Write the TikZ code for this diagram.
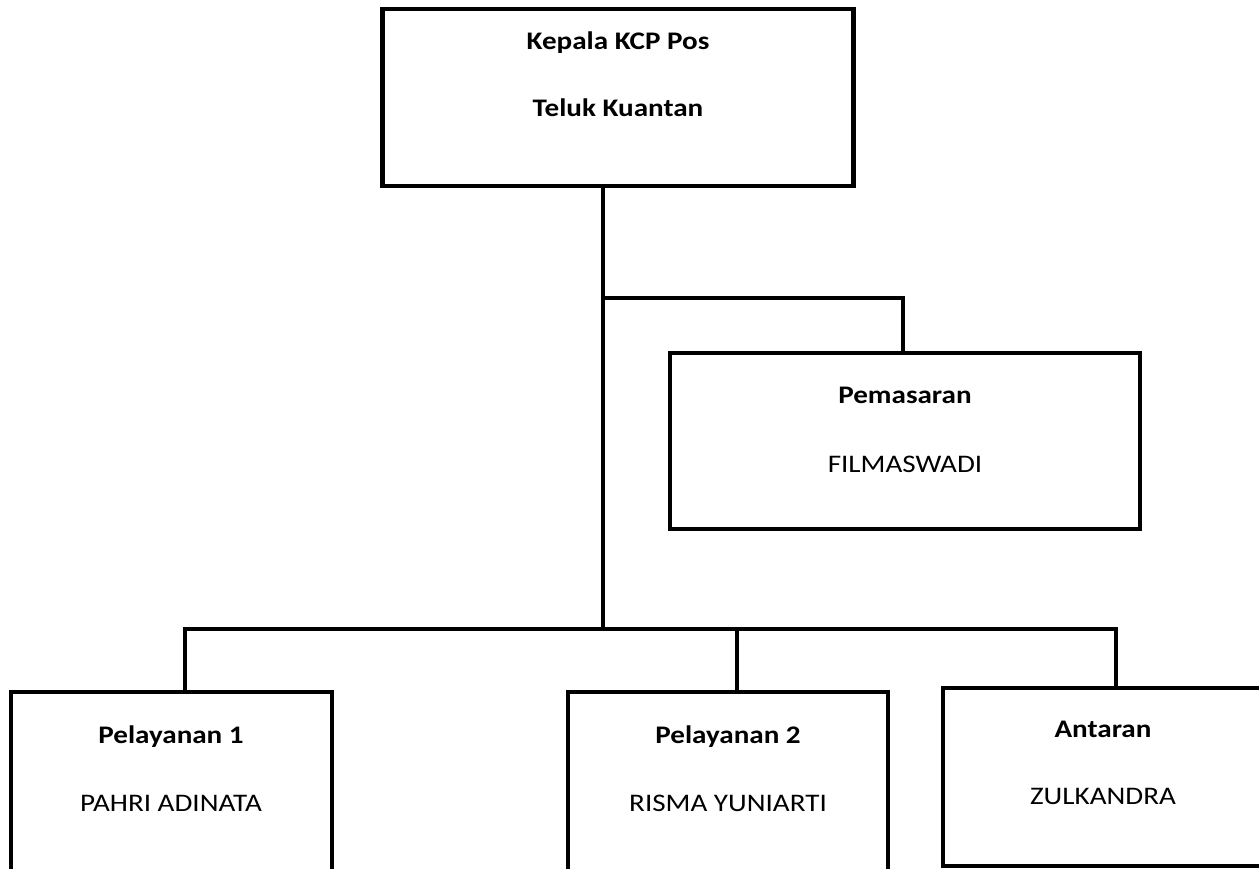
\documentclass[tikz,border=0pt]{standalone}
\usepackage{fontspec}
\setmainfont{Carlito}[FakeStretch=1.15]
\begin{document}
\begin{tikzpicture}[x=1pt,y=-1pt,
  orgbox/.style={draw=black,line width=4.2pt,fill=none,inner sep=0pt},
  conn/.style={draw=black,line width=4.2pt},
  headtxt/.style={font=\fontsize{25.3}{30}\selectfont\bfseries,anchor=base,inner sep=0pt},
  persontxt/.style={font=\fontsize{25.3}{30}\selectfont,anchor=base,inner sep=0pt}]
\clip (0,0) rectangle (1259,869);
\fill[white] (0,0) rectangle (1259,869);
% boxes
\node[orgbox,minimum width=471pt,minimum height=177pt] (top) at (618,97.5) {};
\node[orgbox,minimum width=470pt,minimum height=176pt] (pem) at (905,441) {};
\node[orgbox,minimum width=321pt,minimum height=210pt] (p1) at (171.5,797) {};
\node[orgbox,minimum width=320pt,minimum height=210pt] (p2) at (728,797) {};
\node[orgbox,minimum width=319pt,minimum height=178pt] (ant) at (1102.5,777) {};
% texts
\node[headtxt] (t1) at (618,50) {Kepala KCP Pos};
\node[headtxt] (t2) at (618,117) {Teluk Kuantan};
\node[headtxt] (t3) at (905,403) {Pemasaran};
\node[persontxt] (t4) at (905,472) {FILMASWADI};
\node[headtxt] (t5) at (171,743) {Pelayanan 1};
\node[persontxt] (t6) at (171,811) {PAHRI ADINATA};
\node[headtxt] (t7) at (728,743) {Pelayanan 2};
\node[persontxt] (t8) at (728,811) {RISMA YUNIARTI};
\node[headtxt] (t9) at (1103,737) {Antaran};
\node[persontxt] (t10) at (1103,804) {ZULKANDRA};
% connector points
\coordinate (j1) at (603,298);
\coordinate (j2) at (603,629);
\coordinate (bl) at (185,629);
\coordinate (br) at (1116,629);
% connectors
\draw[conn] (603,0 |- top.south) -- (j2);
\draw[conn,line join=miter] (j1) -- (903,298) -- (903,0 |- pem.north);
\draw[conn,line join=miter] (185,0 |- p1.north) -- (bl) -- (br) -- (1116,0 |- ant.north);
\draw[conn] (737,629) -- (737,0 |- p2.north);
\end{tikzpicture}
\end{document}
